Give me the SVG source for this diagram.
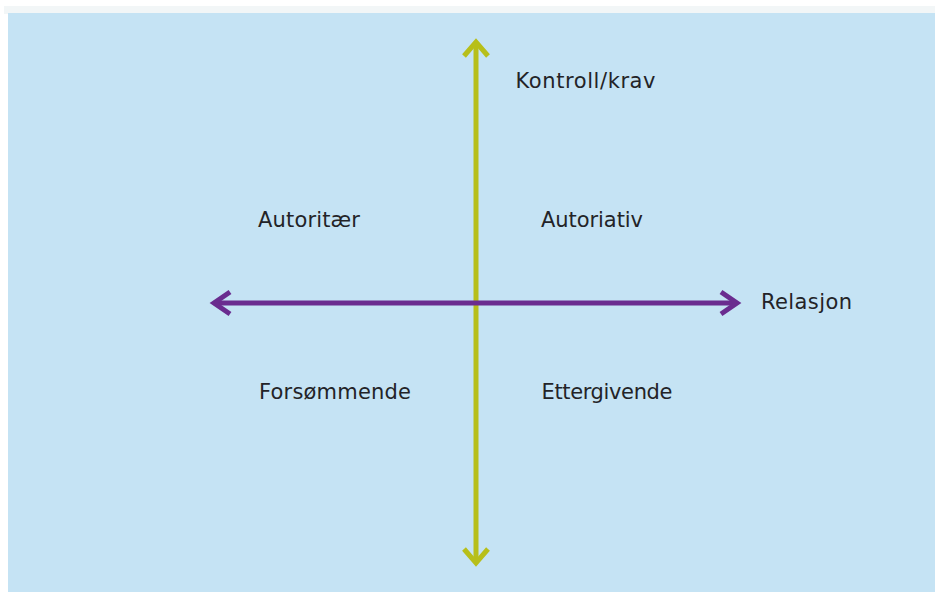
<svg xmlns="http://www.w3.org/2000/svg" width="935" height="592" viewBox="0 0 935 592">
<style>
.lbl{font-family:"DejaVu Sans","Liberation Sans",sans-serif;font-size:21px;fill:#232327}
.ax-v{stroke:#b7bf1a;stroke-width:5;fill:none}
.ax-h{stroke:#6a2c8f;stroke-width:5;fill:none}
</style>
<rect x="0" y="0" width="935" height="592" fill="#ffffff"/>
<rect x="4" y="6" width="931" height="8" fill="#f2f6f7"/>
<rect x="8" y="13" width="927" height="579" fill="#c5e3f4"/>
<g id="connectors">
<line class="ax-v" x1="476" y1="43" x2="476" y2="562"/>
<polyline class="ax-v" points="464,56 476,42 488,56"/>
<polyline class="ax-v" points="464,549 476,563 488,549"/>
<line class="ax-h" x1="215" y1="303" x2="736" y2="303"/>
<polyline class="ax-h" points="230,292 214,303 230,314"/>
<polyline class="ax-h" points="721,292 737,303 721,314"/>
</g>
<g id="kontroll"><text class="lbl" x="515.5" y="88" textLength="140">Kontroll/krav</text></g>
<g id="relasjon"><text class="lbl" x="761" y="308.5" textLength="91">Relasjon</text></g>
<g id="autoritaer"><text class="lbl" x="258" y="227" textLength="102">Autoritær</text></g>
<g id="autoriativ"><text class="lbl" x="541" y="227" textLength="102">Autoriativ</text></g>
<g id="forsommende"><text class="lbl" x="259" y="398.5" textLength="152">Forsømmende</text></g>
<g id="ettergivende"><text class="lbl" x="541.5" y="398.5" textLength="131">Ettergivende</text></g>
</svg>
